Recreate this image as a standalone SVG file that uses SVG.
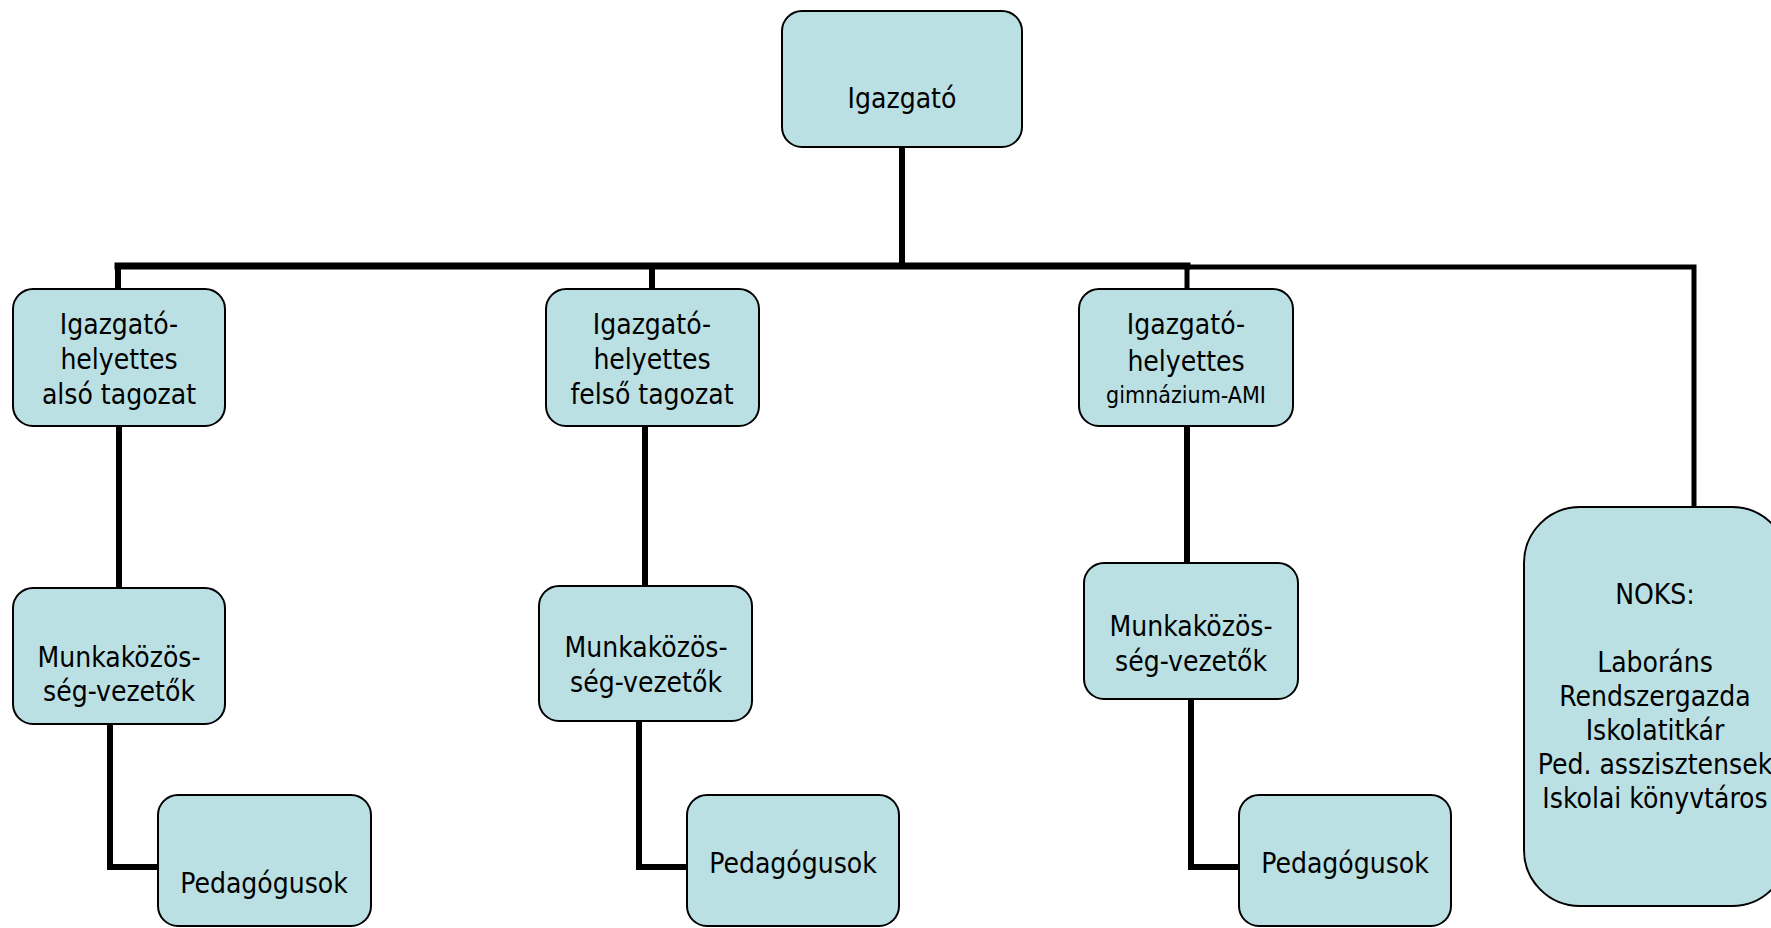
<svg xmlns="http://www.w3.org/2000/svg" width="1771" height="928" viewBox="0 0 1771 928">
<style>
.box{fill:#BBE0E3;stroke:#000;stroke-width:2}
.ln{fill:none;stroke:#000;stroke-width:6;stroke-linecap:square;stroke-linejoin:miter}
text{font-family:"DejaVu Sans Condensed","Liberation Sans",sans-serif;font-size:28px;fill:#000;text-anchor:middle}
.sm{font-size:23px}
</style>
<rect width="1771" height="928" fill="#fff"/>
<g id="connectors">
<path class="ln" d="M902 147V266"/>
<path class="ln" style="stroke-width:7" d="M118 266H1187"/>
<path class="ln" style="stroke-width:5" d="M1187 267H1694V507"/>
<path class="ln" d="M118 266V289M652 266V289"/>
<path class="ln" style="stroke-width:5" d="M1187 267V289"/>
<path class="ln" d="M119 426V588M645 426V586M1187 426V563"/>
<path class="ln" d="M110 724V867H158M639 721V867H687M1191 699V867H1239"/>
</g>
<g id="n-igazgato"><rect class="box" x="782" y="11" width="240" height="136" rx="20"/><text x="902" y="108">Igazgató</text></g>
<g id="n-ih-also"><rect class="box" x="13" y="289" width="212" height="137" rx="20"/><text x="119" y="334">Igazgató-</text><text x="119" y="369">helyettes</text><text x="119" y="404">alsó tagozat</text></g>
<g id="n-ih-felso"><rect class="box" x="546" y="289" width="213" height="137" rx="20"/><text x="652" y="334">Igazgató-</text><text x="652" y="369">helyettes</text><text x="652" y="404">felső tagozat</text></g>
<g id="n-ih-gimn"><rect class="box" x="1079" y="289" width="214" height="137" rx="20"/><text x="1186" y="334">Igazgató-</text><text x="1186" y="371">helyettes</text><text class="sm" x="1186" y="403">gimnázium-AMI</text></g>
<g id="n-mk-also"><rect class="box" x="13" y="588" width="212" height="136" rx="20"/><text x="119" y="667">Munkaközös-</text><text x="119" y="701">ség-vezetők</text></g>
<g id="n-mk-felso"><rect class="box" x="539" y="586" width="213" height="135" rx="20"/><text x="646" y="657">Munkaközös-</text><text x="646" y="692">ség-vezetők</text></g>
<g id="n-mk-gimn"><rect class="box" x="1084" y="563" width="214" height="136" rx="20"/><text x="1191" y="636">Munkaközös-</text><text x="1191" y="671">ség-vezetők</text></g>
<g id="n-ped-also"><rect class="box" x="158" y="795" width="213" height="131" rx="20"/><text x="264" y="893">Pedagógusok</text></g>
<g id="n-ped-felso"><rect class="box" x="687" y="795" width="212" height="131" rx="20"/><text x="793" y="873">Pedagógusok</text></g>
<g id="n-ped-gimn"><rect class="box" x="1239" y="795" width="212" height="131" rx="20"/><text x="1345" y="873">Pedagógusok</text></g>
<g id="n-noks"><rect class="box" x="1524" y="507" width="264" height="399" rx="56"/><text x="1655" y="604">NOKS:</text><text x="1655" y="672">Laboráns</text><text x="1655" y="706">Rendszergazda</text><text x="1655" y="740">Iskolatitkár</text><text x="1655" y="774">Ped. asszisztensek</text><text x="1655" y="808">Iskolai könyvtáros</text></g>
</svg>
